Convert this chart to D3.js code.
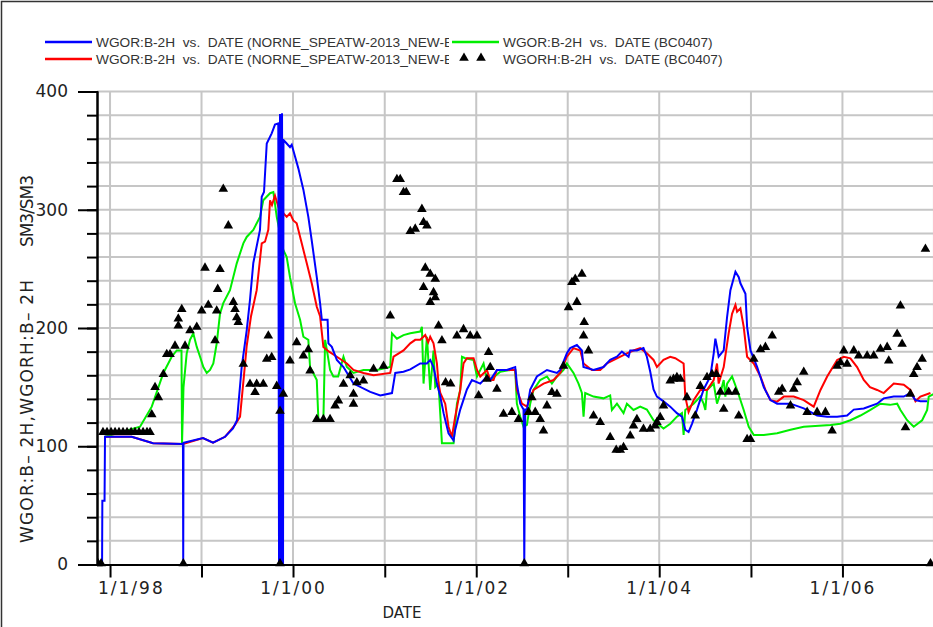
<!DOCTYPE html>
<html>
<head>
<meta charset="utf-8">
<script src="https://cdn.jsdelivr.net/npm/d3@7"></script>
<style>
  body { margin: 0; background: #fff; }
  svg { display: block; font-family: "DejaVu Sans", sans-serif; }
</style>
</head>
<body>
<svg id="chart" width="933" height="627"></svg>
<script>
// values are [decimal year, WGOR in SM3/SM3]

// WGOR:B-2H vs. DATE (NORNE_SPEATW-2013_NEW-E...)  - blue run
var wgorRunA = [[1997.913,0],[1997.916,54],[1997.940,54],[1997.945,108],[1998.237,108],[1998.470,102.5],[1998.797,102],[1998.800,0],[1998.803,103],[1999.016,107],[1999.126,103],[1999.257,108],[1999.344,115],[1999.388,122],[1999.439,167],[1999.494,198],[1999.530,224],[1999.566,255],[1999.639,283],[1999.658,311],[1999.683,315],[1999.713,356],[1999.767,364.6],[1999.803,372],[1999.839,373],[1999.847,0],[1999.858,381],[1999.869,0],[1999.880,381.5],[1999.891,0],[1999.896,359],[1999.931,356],[1999.967,353],[1999.986,355],[2000.022,345],[2000.058,335],[2000.113,317],[2000.167,294],[2000.204,274],[2000.259,243],[2000.295,221],[2000.314,207],[2000.350,207],[2000.377,207],[2000.386,187],[2000.423,184],[2000.478,173],[2000.550,167],[2000.659,153],[2000.842,146],[2000.951,143],[2001.079,145],[2001.115,162],[2001.205,163],[2001.279,165],[2001.388,170],[2001.461,170],[2001.497,173],[2001.533,167],[2001.570,153],[2001.607,142],[2001.643,128],[2001.697,111],[2001.752,105],[2001.770,114],[2001.825,131],[2001.898,148],[2001.953,156],[2002.044,153],[2002.117,159],[2002.153,156],[2002.226,164.5],[2002.335,164.5],[2002.426,167],[2002.444,153],[2002.481,136],[2002.517,131],[2002.525,0],[2002.536,131],[2002.554,131],[2002.590,148],[2002.663,159],[2002.773,164.5],[2002.882,162],[2002.918,164.5],[2002.991,178.6],[2003.027,183],[2003.100,185.6],[2003.155,181],[2003.172,167],[2003.282,164.5],[2003.391,167],[2003.464,173],[2003.538,175.7],[2003.592,180],[2003.665,175.7],[2003.683,181],[2003.756,181],[2003.828,183],[2003.865,175.7],[2003.902,163],[2003.938,148],[2003.975,142],[2004.047,138],[2004.120,133.5],[2004.193,128],[2004.248,125],[2004.284,114],[2004.320,112],[2004.357,119],[2004.412,131],[2004.484,148],[2004.557,159],[2004.594,178.6],[2004.612,191],[2004.630,184],[2004.648,175.7],[2004.703,181],[2004.740,209.5],[2004.776,232],[2004.831,247.6],[2004.867,243],[2004.885,237.8],[2004.940,229],[2004.958,201],[2004.995,181],[2005.068,167],[2005.140,150],[2005.213,139],[2005.286,136],[2005.432,136],[2005.577,132],[2005.723,126],[2005.833,125],[2005.942,125],[2006.051,126],[2006.124,131],[2006.233,132],[2006.379,136],[2006.451,140.5],[2006.561,142],[2006.670,142],[2006.743,145],[2006.798,139],[2006.852,138],[2006.926,138]];

// second NORNE run - red
var wgorRunB = [[1997.945,108],[1998.237,108],[1998.470,102.5],[1998.798,102],[1999.016,107],[1999.126,103],[1999.257,108],[1999.366,118],[1999.421,125],[1999.464,160],[1999.494,185],[1999.541,210],[1999.603,232],[1999.658,271.6],[1999.694,273],[1999.730,283],[1999.749,308],[1999.770,304],[1999.803,312],[1999.839,302.6],[1999.869,305],[1999.894,297],[1999.931,294],[1999.967,297],[2000.003,291],[2000.040,288.5],[2000.095,271.6],[2000.150,254.7],[2000.204,237.8],[2000.259,218],[2000.295,210],[2000.331,184],[2000.393,180],[2000.478,175.7],[2000.587,170],[2000.659,164.5],[2000.768,162],[2000.878,160],[2001.060,162],[2001.096,175.7],[2001.205,181],[2001.279,187],[2001.333,190],[2001.388,190],[2001.443,194],[2001.475,188],[2001.497,192.6],[2001.533,187],[2001.570,170],[2001.588,153],[2001.607,145],[2001.661,136],[2001.697,116.5],[2001.734,108],[2001.770,125],[2001.825,147.6],[2001.861,170],[2001.898,174.4],[2001.971,174.4],[2002.008,164.5],[2002.044,159],[2002.117,164.5],[2002.153,156],[2002.189,156],[2002.226,164.5],[2002.372,164.5],[2002.426,164.5],[2002.444,147.6],[2002.499,136],[2002.554,133.5],[2002.626,147.6],[2002.736,153],[2002.845,156],[2002.918,162],[2002.991,175.7],[2003.063,183],[2003.137,181],[2003.173,170],[2003.264,164.5],[2003.355,164.5],[2003.428,170],[2003.538,174.4],[2003.647,178.6],[2003.719,181],[2003.792,183],[2003.865,178.6],[2003.938,173],[2003.975,167],[2004.047,173],[2004.120,175.7],[2004.175,174.4],[2004.266,170],[2004.284,142],[2004.320,129],[2004.375,139],[2004.448,147.6],[2004.521,147.6],[2004.594,156],[2004.630,170],[2004.648,153],[2004.703,167],[2004.757,195.5],[2004.794,212],[2004.831,219.5],[2004.849,213.8],[2004.885,216.6],[2004.921,201],[2004.958,175.7],[2005.031,170],[2005.104,159],[2005.158,147.6],[2005.213,139],[2005.286,137.7],[2005.359,142],[2005.468,142],[2005.577,139],[2005.686,133.5],[2005.760,147.6],[2005.833,159],[2005.942,173],[2006.015,175.7],[2006.087,174.4],[2006.160,167],[2006.233,156],[2006.301,150],[2006.379,147.6],[2006.451,145],[2006.561,153],[2006.670,152],[2006.743,147.6],[2006.798,138],[2006.852,142],[2006.962,145]];

// WGOR:B-2H vs. DATE (BC0407) - green
var wgorBc0407 = [[1997.945,108],[1998.328,116.5],[1998.456,133.5],[1998.583,162],[1998.674,175.7],[1998.729,181],[1998.781,181],[1998.787,102.5],[1998.803,150],[1998.838,178.6],[1998.874,190],[1998.910,195.5],[1998.948,184],[1998.984,175.7],[1999.020,167],[1999.057,162],[1999.093,164.5],[1999.129,170],[1999.166,187],[1999.202,212],[1999.238,221],[1999.311,232],[1999.385,254.7],[1999.457,271.6],[1999.494,277],[1999.566,283],[1999.639,294],[1999.675,308],[1999.749,314],[1999.785,315],[1999.803,305],[1999.822,294],[1999.858,280],[1999.894,266],[1999.931,260],[1999.967,243],[2000.022,221],[2000.077,207],[2000.113,192.6],[2000.167,190],[2000.186,167],[2000.259,156],[2000.277,122],[2000.331,122],[2000.350,190],[2000.372,180],[2000.404,164.5],[2000.440,159],[2000.492,159],[2000.550,175.7],[2000.587,167],[2000.659,162],[2000.768,164.5],[2000.915,164.5],[2001.060,167],[2001.079,195.5],[2001.133,191],[2001.205,194],[2001.279,195.5],[2001.388,197],[2001.406,201],[2001.424,153],[2001.461,192.6],[2001.497,147.6],[2001.533,181],[2001.552,150],[2001.588,153],[2001.625,102.5],[2001.752,102.5],[2001.789,136],[2001.825,147.6],[2001.844,175.7],[2001.880,174.4],[2001.971,173],[2002.008,159],[2002.080,170],[2002.117,156],[2002.186,158],[2002.262,163],[2002.372,164.5],[2002.426,164.5],[2002.444,136],[2002.481,125],[2002.517,116.5],[2002.554,118],[2002.590,136],[2002.626,147.6],[2002.699,156],[2002.773,159],[2002.827,153],[2002.882,159],[2002.954,164.5],[2002.991,170],[2003.063,162],[2003.118,153],[2003.155,145],[2003.173,125],[2003.191,145],[2003.282,142],[2003.391,140.5],[2003.464,143],[2003.483,130.7],[2003.538,136],[2003.610,128],[2003.647,136],[2003.719,130.7],[2003.792,133.5],[2003.865,131],[2003.938,122],[2004.047,115],[2004.120,119],[2004.193,125],[2004.248,128],[2004.266,109.5],[2004.284,130.7],[2004.375,136],[2004.448,142],[2004.484,136],[2004.503,130.7],[2004.521,147.6],[2004.594,153],[2004.630,136],[2004.667,145],[2004.703,156],[2004.721,142],[2004.740,153],[2004.794,159],[2004.849,147.6],[2004.921,130.7],[2004.976,116.5],[2005.031,109.5],[2005.140,109.5],[2005.286,111],[2005.432,114],[2005.577,116.5],[2005.869,118],[2005.978,119],[2006.087,122],[2006.197,126],[2006.306,130.7],[2006.415,136],[2006.519,135],[2006.598,136],[2006.634,130.7],[2006.707,122],[2006.779,116.5],[2006.871,122],[2006.926,130.7],[2006.943,142],[2007.016,145]];

// WGORH:B-2H vs. DATE (BC0407) - observed, triangles
var wgorhObs = [[1997.869,0],[1997.902,0],[1997.923,111],[1997.967,111],[1998.011,111],[1998.055,111],[1998.098,111],[1998.142,111],[1998.186,111],[1998.230,111],[1998.273,111],[1998.317,111],[1998.361,111],[1998.404,111],[1998.437,111],[1998.456,126],[1998.492,149],[1998.528,140.5],[1998.583,160],[1998.620,177],[1998.656,177],[1998.710,184],[1998.746,201],[1998.746,207],[1998.784,215],[1998.801,0],[1998.820,184],[1998.874,197],[1998.948,200],[1999.002,213.8],[1999.038,250],[1999.074,218.6],[1999.148,188.5],[1999.166,213.8],[1999.177,232],[1999.202,248.8],[1999.238,316.7],[1999.293,285.7],[1999.348,221],[1999.366,215],[1999.385,208],[1999.402,204],[1999.457,168.7],[1999.530,151.8],[1999.585,144.8],[1999.603,151.8],[1999.675,151.8],[1999.713,173],[1999.730,192.6],[1999.767,174.4],[1999.822,150],[1999.858,129],[1999.858,0],[1999.894,143.3],[1999.967,171.5],[2000.040,187],[2000.113,175.7],[2000.167,181],[2000.186,163],[2000.259,122],[2000.331,122],[2000.404,122],[2000.459,133.5],[2000.495,137.7],[2000.550,151.8],[2000.623,159],[2000.659,143.3],[2000.659,135],[2000.696,153],[2000.768,154.6],[2000.878,164.5],[2000.987,167],[2001.060,209.5],[2001.133,325],[2001.169,325],[2001.205,314],[2001.235,314],[2001.279,281],[2001.333,283],[2001.406,299.7],[2001.424,288.5],[2001.461,285.7],[2001.443,250],[2001.497,244.8],[2001.552,240.6],[2001.424,233.6],[2001.533,229.3],[2001.552,225],[2001.497,221],[2001.588,201],[2001.625,188.5],[2001.665,153],[2001.720,152],[2001.789,192.6],[2001.861,198],[2001.934,192.6],[2002.008,192.6],[2002.026,142],[2002.117,156],[2002.135,178.6],[2002.153,166],[2002.226,147.6],[2002.298,126.4],[2002.390,128],[2002.462,122],[2002.525,0],[2002.572,128],[2002.608,140.5],[2002.645,128],[2002.699,122],[2002.735,112.3],[2002.773,133.5],[2002.827,144.8],[2002.882,143.3],[2002.954,167],[2003.009,216.6],[2003.046,237.8],[2003.082,240.6],[2003.100,221],[2003.155,244.8],[2003.180,204],[2003.173,192.6],[2003.227,180],[2003.282,125],[2003.355,119.4],[2003.464,106.7],[2003.530,96],[2003.574,96],[2003.610,98.3],[2003.683,108],[2003.719,116.5],[2003.756,122],[2003.828,113.7],[2003.902,113.7],[2003.956,116.5],[2003.975,119.4],[2004.011,123.6],[2004.047,133.5],[2004.120,154.6],[2004.156,156],[2004.193,157.5],[2004.230,156],[2004.302,140.5],[2004.393,125],[2004.448,150],[2004.521,157.5],[2004.576,160],[2004.623,160],[2004.667,145],[2004.703,130.7],[2004.757,145],[2004.831,145],[2004.867,125],[2004.958,105],[2004.995,105],[2005.031,173],[2005.104,181],[2005.158,183],[2005.232,192.6],[2005.304,145],[2005.341,147.6],[2005.432,133.5],[2005.468,147.6],[2005.505,153],[2005.577,162],[2005.614,128],[2005.723,128],[2005.814,128],[2005.887,112.3],[2005.942,167],[2005.978,170],[2006.015,180],[2006.051,168.7],[2006.124,180],[2006.178,175.7],[2006.270,175.7],[2006.342,175.7],[2006.415,181.4],[2006.489,183],[2006.506,171.5],[2006.598,194],[2006.634,218],[2006.652,185.6],[2006.689,115],[2006.743,143.3],[2006.779,160],[2006.816,166],[2006.871,173],[2006.907,266],[2006.962,0]];

var legendLabels = ["WGOR:B-2H  vs.  DATE (NORNE_SPEATW-2013_NEW-BC0407)",
                    "WGOR:B-2H  vs.  DATE (NORNE_SPEATW-2013_NEW-BC0407_2)",
                    "WGOR:B-2H  vs.  DATE (BC0407)",
                    "WGORH:B-2H  vs.  DATE (BC0407)"];
var seriesColors = ["#0000ff", "#ff0000", "#00ee00"];
var yMajorTicks = [0, 100, 200, 300, 400];
var yMinorTicks = d3.range(0, 401, 20);
var yearTicks = d3.range(1998, 2008);
var labelYears = [1998, 2000, 2002, 2004, 2006];

// decimal year -> Date
function decYear(d) {
    var y = Math.floor(d),
        s = new Date(y, 0, 1),
        e = new Date(y + 1, 0, 1);
    return new Date(+s + (d - y) * (e - s));
}

var svg = d3.select("#chart");
var plot = {left: 97, right: 960, top: 91.5, bottom: 564.5};

var x = d3.scaleTime()
          .domain([new Date(1997, 10, 10), new Date(2007, 3, 15)])
          .range([plot.left, plot.right]);
var y = d3.scaleLinear()
          .domain([0, 400])
          .range([plot.bottom, plot.top]);

// outer frame
svg.append("rect")
   .attr("x", 1.5).attr("y", 1.5)
   .attr("width", 960).attr("height", 700)
   .attr("fill", "none")
   .attr("stroke", "#333")
   .attr("stroke-width", 1.5);

svg.append("clipPath").attr("id", "plotclip")
   .append("rect")
   .attr("x", plot.left).attr("y", plot.top - 10)
   .attr("width", plot.right - plot.left).attr("height", plot.bottom - plot.top + 20);

// grid
var grid = svg.append("g").attr("stroke", "#c6c6c6").attr("stroke-width", 2);
grid.selectAll("line.h")
    .data(yMinorTicks.filter(function(v) { return v > 0; }))
    .enter().append("line")
    .attr("class", "h")
    .attr("x1", plot.left).attr("x2", plot.right)
    .attr("y1", function(d) { return y(d); })
    .attr("y2", function(d) { return y(d); });
grid.selectAll("line.v")
    .data(yearTicks)
    .enter().append("line")
    .attr("class", "v")
    .attr("x1", function(d) { return x(new Date(d, 0, 1)); })
    .attr("x2", function(d) { return x(new Date(d, 0, 1)); })
    .attr("y1", plot.top).attr("y2", plot.bottom);

// series lines
var line = d3.line()
             .x(function(d) { return x(decYear(d[0])); })
             .y(function(d) { return y(d[1]); });

var lines = svg.append("g").attr("clip-path", "url(#plotclip)");
[wgorBc0407, wgorRunB, wgorRunA].forEach(function(s, i) {
    var col = [seriesColors[2], seriesColors[1], seriesColors[0]][i];
    lines.append("path")
         .datum(s)
         .attr("d", line)
         .attr("fill", "none")
         .attr("stroke", col)
         .attr("stroke-width", 2)
         .attr("stroke-linejoin", "miter");
});

// observed triangles
var tri = d3.symbol().type(d3.symbolTriangle).size(40);
lines.selectAll("path.obs")
     .data(wgorhObs)
     .enter().append("path")
     .attr("class", "obs")
     .attr("d", tri)
     .attr("fill", "#000")
     .attr("transform", function(d) {
         return "translate(" + x(decYear(d[0])) + "," + (y(d[1]) - 1) + ")";
     });

// y axis
var yMinor = svg.append("g")
                .attr("transform", "translate(" + plot.left + ",0)")
                .call(d3.axisLeft(y).tickValues(yMinorTicks).tickSize(10).tickFormat(""));
var yMajor = svg.append("g")
                .attr("transform", "translate(" + plot.left + ",0)")
                .call(d3.axisLeft(y).tickValues(yMajorTicks).tickSize(19).tickSizeOuter(0).tickPadding(10));
[yMinor, yMajor].forEach(function(g) {
    g.selectAll("line").attr("stroke", "#000").attr("stroke-width", 2);
    g.select(".domain").attr("stroke", "#000").attr("stroke-width", 2);
});
yMajor.selectAll("text")
      .attr("font-size", 17)
      .attr("font-family", "DejaVu Sans")
      .attr("fill", "#222");

// x axis
var xAxis = svg.append("g")
               .attr("transform", "translate(0," + plot.bottom + ")")
               .call(d3.axisBottom(x)
                       .tickValues(yearTicks.map(function(d) { return new Date(d, 0, 1); }))
                       .tickSize(13)
                       .tickSizeOuter(0)
                       .tickPadding(4)
                       .tickFormat(function(d) {
                           return labelYears.indexOf(d.getFullYear()) >= 0 ? d3.timeFormat("%-m/%-d/%y")(d) : "";
                       }));
xAxis.selectAll("line").attr("stroke", "#000").attr("stroke-width", 2);
xAxis.select(".domain").attr("stroke", "#000").attr("stroke-width", 2);
xAxis.selectAll("text")
     .attr("font-size", 17)
     .attr("font-family", "DejaVu Sans")
     .attr("letter-spacing", 2)
     .attr("fill", "#222")
     .each(function() {
         // keep the first label from running into the y axis
         var b = this.getBBox();
         var tick = d3.select(this.parentNode).attr("transform");
         var tx = +tick.match(/translate\(([\d.\-]+)/)[1];
         if (b.width > 0 && tx - b.width / 2 < plot.left + 1) {
             d3.select(this).attr("x", plot.left + 1 + b.width / 2 - tx);
         }
     });

// axis titles
svg.append("text")
   .attr("x", 402).attr("y", 618)
   .attr("text-anchor", "middle")
   .attr("font-size", 15)
   .attr("fill", "#222")
   .text("DATE");

svg.append("text")
   .attr("transform", "translate(33,543) rotate(-90)")
   .attr("font-size", 17)
   .attr("textLength", 263)
   .attr("lengthAdjust", "spacing")
   .attr("fill", "#222")
   .text("WGOR:B\u2013 2H,WGORH:B\u2013 2H");
svg.append("text")
   .attr("transform", "translate(33,247) rotate(-90)")
   .attr("font-size", 17)
   .attr("textLength", 72)
   .attr("lengthAdjust", "spacing")
   .attr("fill", "#222")
   .text("SM3/SM3");

// legend
svg.append("clipPath").attr("id", "legclip")
   .append("rect").attr("x", 0).attr("y", 0).attr("width", 449).attr("height", 90);

var leg = svg.append("g").attr("font-family", "Liberation Sans, Arial, sans-serif").attr("font-size", 13.7).attr("fill", "#333");
var legRows = [{x: 45, y: 42, c: seriesColors[0], t: legendLabels[0], clip: true},
               {x: 45, y: 59, c: seriesColors[1], t: legendLabels[1], clip: true},
               {x: 452, y: 42, c: seriesColors[2], t: legendLabels[2], clip: false},
               {x: 452, y: 59, c: null, t: legendLabels[3], clip: false}];
legRows.forEach(function(r) {
    if (r.c) {
        leg.append("line")
           .attr("x1", r.x).attr("x2", r.x + 47)
           .attr("y1", r.y).attr("y2", r.y)
           .attr("stroke", r.c).attr("stroke-width", 2.5);
    } else {
        [r.x + 12, r.x + 29].forEach(function(px) {
            leg.append("path").attr("d", tri).attr("fill", "#000")
               .attr("transform", "translate(" + px + "," + (r.y - 1) + ")");
        });
    }
    var t = leg.append("text")
               .attr("x", r.x + 51).attr("y", r.y + 5)
               .attr("xml:space", "preserve")
               .style("white-space", "pre")
               .text(r.t);
    if (r.clip) t.attr("clip-path", "url(#legclip)");
});
</script>
</body>
</html>
